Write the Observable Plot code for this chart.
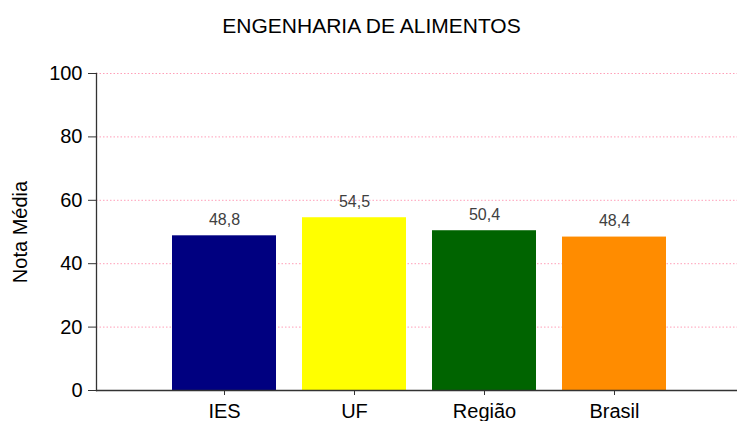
<!DOCTYPE html>
<html>
<head>
<meta charset="utf-8">
<script src="https://cdn.jsdelivr.net/npm/d3@7"></script>
<script src="https://cdn.jsdelivr.net/npm/@observablehq/plot@0.6"></script>
<style>
  body { margin: 0; background: #fff; font-family: "Liberation Sans", Arial, sans-serif; }
  #title { height: 50px; width: 737px; text-align: center; font-size: 21px; line-height: 22px; padding-top: 15px; box-sizing: border-box; color: #000; padding-left: 6px; }
</style>
</head>
<body>
<div id="title">ENGENHARIA DE ALIMENTOS</div>
<div id="chart"></div>
<script>
const categories = ["IES", "UF", "Região", "Brasil"];
const values = [48.8, 54.5, 50.4, 48.4];
const colors = ["#000080", "#FFFF00", "#006400", "#FF8C00"];
const yTicks = [0, 20, 40, 60, 80, 100];
const gridTicks = [20, 40, 60, 80, 100];

const data = categories.map((c, i) => ({category: c, value: values[i], color: colors[i]}));
const fmt = v => v.toFixed(1).replace(".", ",");

const chart = Plot.plot({
  width: 737,
  height: 371,
  marginTop: 23,
  marginBottom: 31,
  marginLeft: 96,
  marginRight: 0,
  style: {fontFamily: "'Liberation Sans', Arial, sans-serif", background: "#fff", overflow: "visible"},
  x: {domain: categories, range: [172, 666], paddingInner: 0.2, paddingOuter: 0},
  y: {domain: [0, 100]},
  marks: [
    Plot.ruleY(gridTicks, {stroke: "#ff9fb8", strokeDasharray: "1.5,2", strokeWidth: 1}),
    Plot.barY(data, {x: "category", y: "value", fill: "color"}),
    Plot.text(data, {x: "category", y: "value", text: d => fmt(d.value), dy: -11, lineAnchor: "bottom", fontSize: 16, fill: "#404040"}),
    Plot.ruleY([0], {stroke: "#333", strokeWidth: 1.3}),
    Plot.frame({anchor: "left", stroke: "#333", strokeWidth: 1.3}),
    Plot.axisY({ticks: yTicks, tickSize: 8, tickPadding: 6, fontSize: 20, stroke: "#333", fill: "#000", label: null}),
    Plot.axisX({tickSize: 5, tickPadding: 8, fontSize: 20, stroke: "#333", fill: "#000", label: null}),
    Plot.text(["Nota Média"], {frameAnchor: "left", dx: -76, rotate: -90, textAnchor: "middle", fontSize: 20, fill: "#000", text: d => d})
  ]
});
document.getElementById("chart").appendChild(chart);
</script>
</body>
</html>
